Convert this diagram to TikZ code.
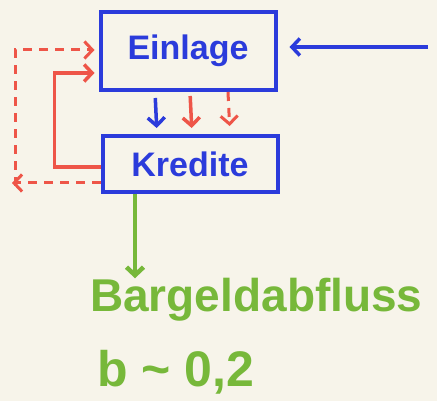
\documentclass[tikz,border=0pt]{standalone}
\usepackage{fontspec}
\setmainfont{Liberation Sans}
\usetikzlibrary{positioning,arrows.meta}
\definecolor{penblue}{HTML}{2B3BDB}
\definecolor{penred}{HTML}{EE5548}
\definecolor{pengreen}{HTML}{77B83A}
\definecolor{paper}{HTML}{F7F4EA}
\newcommand*\accwidth{175pt}
\tikzset{account/.style={
    draw=penblue,
    line width=4pt,
    text=penblue,
    font=\fontsize{34}{38}\selectfont\bfseries,
    minimum width=\accwidth,
    minimum height=#1,
    inner sep=0pt
},
flow/.style={
    line width=3.5pt,
    -{Straight Barb[length=8pt,width=17pt]}
},
sketchdash/.style={
    dash pattern=on 9pt off 7pt,
    line width=3pt
},
note/.style={
    anchor=west,
    text=pengreen,
    font=\fontsize{46}{50}\selectfont\bfseries,
    inner sep=0pt
}}

\begin{document}
\begin{tikzpicture}[x=1pt,y=-1pt]
    \fill[paper] (0,0) rectangle (437,401);
    \useasboundingbox (0,0) rectangle (437,401);

    % The two accounts.
    \node[account=78pt] (einlage) at (188,51) {Einlage};
    \node[account=56pt] (kredite) at (190,164) {Kredite};

    % Money coming in from the right.
    \coordinate (source) at (428,47);
    \draw[flow,penblue,shorten >=12pt] (source) -- (einlage.east |- source);

    % Arrows from Einlage down to Kredite.
    \draw[flow,penblue,shorten <=6pt,shorten >=6pt] ([xshift=-33pt]einlage.south) -- ([xshift=-33pt]kredite.north);
    \draw[flow,penred,shorten <=4pt,shorten >=6pt] ([xshift=2pt]einlage.south) -- ([xshift=2pt]kredite.north);
    \draw[flow,penred,sketchdash,shorten >=8pt] ([xshift=40pt]einlage.south) -- ([xshift=40pt]kredite.north);

    % Back again, on the left.
    \draw[flow,penred,shorten >=4pt] ([yshift=-3pt]kredite.west) -- ++(-46,0) |- ([yshift=-22pt]einlage.west);
    \coordinate (corner) at (12,183);
    \draw[flow,penred,sketchdash] ([yshift=-19pt]kredite.west) -- (corner);
    \draw[flow,penred,sketchdash,shorten >=4pt] ([xshift=3pt,yshift=-3pt]corner) |- ([yshift=1pt]einlage.west);

    % The cash outflow.
    \node[note] (abfluss) at (90,300) {Bargeldabfluss};
    \node[note,font=\fontsize{50}{54}\selectfont\bfseries] (quote) at (97,372) {b \textasciitilde\ 0,2};
    \draw[flow,pengreen,line width=4.5pt] ([xshift=-55pt]kredite.south) -- ([xshift=-55pt]kredite.south |- abfluss.north);
\end{tikzpicture}
\end{document}
